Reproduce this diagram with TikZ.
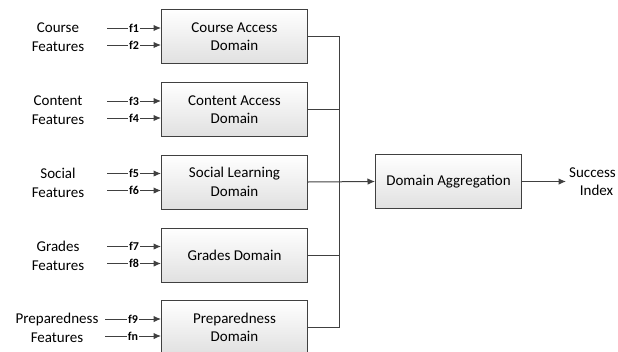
\documentclass[tikz,border=0pt]{standalone}
\usepackage{fontspec}
\setmainfont{Carlito}
\usetikzlibrary{arrows.meta}
\definecolor{edge}{HTML}{404040}
\tikzset{
  dombox/.style={draw=edge, line width=1pt, top color=white, bottom color=black!12, minimum width=146pt, minimum height=54pt, align=center, font=\fontsize{15}{18.5}\selectfont, inner sep=2pt},
  featlbl/.style={align=center, font=\fontsize{15}{18.5}\selectfont, inner sep=0pt},
  flbl/.style={fill=white, inner sep=1pt, font=\bfseries\fontsize{12}{13}\selectfont},
  conn/.style={draw=edge, line width=1pt},
  arr/.style={conn, -{Latex[length=7.5pt,width=6.5pt]}}
}
\begin{document}
\begin{tikzpicture}[x=1pt,y=-1pt]
\useasboundingbox (0,0) rectangle (618,351);
% domain boxes
\node[dombox] (b1) at (234.5,36.5) {Course Access\\Domain};
\node[dombox] (b2) at (234.5,109.5) {Content Access\\Domain};
\node[dombox] (b3) at (234.5,182) {Social Learning\\Domain};
\node[dombox] (b4) at (234.5,255) {Grades Domain};
\node[dombox] (b5) at (234.5,327.5) {Preparedness\\Domain};
% feature labels
\node[featlbl] (l1) at (58,37) {Course\\Features};
\node[featlbl] (l2) at (58,110) {Content\\Features};
\node[featlbl] (l3) at (58,183) {Social\\Features};
\node[featlbl] (l4) at (58,256) {Grades\\Features};
\node[featlbl] (l5) at (57,328) {Preparedness\\Features};
% feature arrow start points
\coordinate (s1) at (107,28);
\coordinate (s2) at (107,45);
\coordinate (s3) at (107,101);
\coordinate (s4) at (107,118);
\coordinate (s5) at (107,173.5);
\coordinate (s6) at (107,190.5);
\coordinate (s7) at (107,246.5);
\coordinate (s8) at (107,263.5);
\coordinate (s9) at (105,319);
\coordinate (s10) at (105,336);
\draw[arr] (s1) -- node[flbl]{f1} (b1.west |- s1);
\draw[arr] (s2) -- node[flbl]{f2} (b1.west |- s2);
\draw[arr] (s3) -- node[flbl]{f3} (b2.west |- s3);
\draw[arr] (s4) -- node[flbl]{f4} (b2.west |- s4);
\draw[arr] (s5) -- node[flbl]{f5} (b3.west |- s5);
\draw[arr] (s6) -- node[flbl]{f6} (b3.west |- s6);
\draw[arr] (s7) -- node[flbl]{f7} (b4.west |- s7);
\draw[arr] (s8) -- node[flbl]{f8} (b4.west |- s8);
\draw[arr] (s9) -- node[flbl]{f9} (b5.west |- s9);
\draw[arr] (s10) -- node[flbl]{fn} (b5.west |- s10);
% aggregation
\node[dombox] (agg) at (448.5,181.5) {Domain Aggregation};
\node[featlbl, anchor=west] (out) at (569,181.5) {Success\\\hspace*{8pt}Index};
\coordinate (bt) at (339,36.5);
\coordinate (bb) at (339,327.5);
\draw[conn] (b1.east) -- (bt) -- (bb) -- (b5.east);
\draw[conn] (b2.east) -- (b2.east -| bt);
\draw[conn] (b4.east) -- (b4.east -| bt);
\draw[arr] (b3.east) -- (agg.west);
\draw[arr] (agg.east) -- ([xshift=-3pt]out.west);
\end{tikzpicture}
\end{document}
